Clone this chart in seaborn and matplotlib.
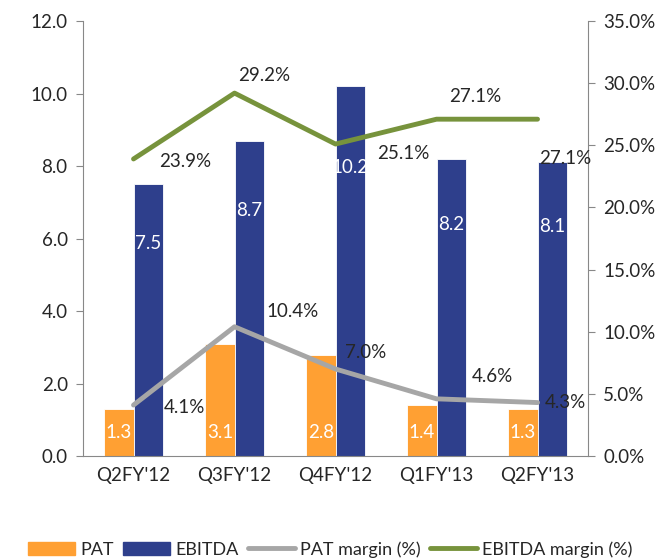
import pandas as pd
import numpy as np
import matplotlib
matplotlib.use('Agg')
import matplotlib.pyplot as plt
import seaborn as sns
from matplotlib.patches import Patch
from matplotlib.lines import Line2D

sns.set_style('white')
plt.rcParams['font.family'] = ['Lato', 'DejaVu Sans']
FS = 13.5

quarters = ["Q2FY'12", "Q3FY'12", "Q4FY'12", "Q1FY'13", "Q2FY'13"]
pat = [1.3, 3.1, 2.8, 1.4, 1.3]
ebitda = [7.5, 8.7, 10.2, 8.2, 8.1]
pat_margin = [4.1, 10.4, 7.0, 4.6, 4.3]
ebitda_margin = [23.9, 29.2, 25.1, 27.1, 27.1]

# label offsets in points (dx, dy), excel put them a bit all over
pat_m_off = [(37, -2), (42, 11), (22, 12), (40, 16), (20, 0)]
ebitda_m_off = [(37, -2), (21, 13), (49, -7), (28, 16), (20, -28)]

C_PAT = '#FFA033'
C_EBITDA = '#2E3F8C'
C_PATM = '#A6A6A6'
C_EBM = '#77933C'

bars = pd.DataFrame({
    'quarter': quarters * 2,
    'value': pat + ebitda,
    'series': ['PAT'] * 5 + ['EBITDA'] * 5,
})

fig = plt.figure(figsize=(6.61, 5.6), dpi=100)
ax = fig.add_axes([0.1256, 0.1857, 0.764, 0.7768])

sns.barplot(data=bars, x='quarter', y='value', hue='series',
            palette=[C_PAT, C_EBITDA], width=0.58, ax=ax, legend=False,
            saturation=1, edgecolor='white', linewidth=0.6)
ax.set_ylim(0, 12)
ax.set_yticks(np.arange(0, 12.1, 2))
ax.set_yticklabels([f'{v:.1f}' for v in np.arange(0, 12.1, 2)])
ax.set_xlabel('')
ax.set_ylabel('')

# white labels inside bars
for i, cont in enumerate(ax.containers):
    vals = pat if i == 0 else ebitda
    for rect, v in zip(cont, vals):
        cx = rect.get_x() + rect.get_width() / 2
        y = 0.65 if i == 0 else v * 0.78
        ax.text(cx, y, f'{v:.1f}', color='white', ha='center', va='center',
                fontsize=FS)

ax2 = ax.twinx()
sns.lineplot(x=quarters, y=pat_margin, color=C_PATM, lw=3.5, ax=ax2, sort=False)
sns.lineplot(x=quarters, y=ebitda_margin, color=C_EBM, lw=3.5, ax=ax2, sort=False)
ax2.set_ylim(0, 35)
ax2.set_yticks(np.arange(0, 35.1, 5))
ax2.set_yticklabels([f'{v:.1f}%' for v in np.arange(0, 35.1, 5)])
ax2.set_xlim(-0.5, 4.5)

for i, (v, off) in enumerate(zip(pat_margin, pat_m_off)):
    ax2.annotate(f'{v:.1f}%', (i, v), xytext=off, textcoords='offset points',
                 ha='center', va='center', fontsize=FS)
for i, (v, off) in enumerate(zip(ebitda_margin, ebitda_m_off)):
    ax2.annotate(f'{v:.1f}%', (i, v), xytext=off, textcoords='offset points',
                 ha='center', va='center', fontsize=FS)

for a in (ax, ax2):
    a.spines['top'].set_visible(False)
    for s in ('left', 'right', 'bottom'):
        a.spines[s].set_color('#888888')
    a.tick_params(axis='y', length=5, color='#888888', labelsize=FS, pad=6)
    a.tick_params(axis='x', length=0, labelsize=FS, pad=8)
ax.spines['right'].set_visible(False)
ax2.spines['left'].set_visible(False)
ax2.spines['bottom'].set_visible(False)

handles = [Patch(color=C_PAT, label='PAT'), Patch(color=C_EBITDA, label='EBITDA'),
           Line2D([], [], color=C_PATM, lw=3.5, label='PAT margin (%)'),
           Line2D([], [], color=C_EBM, lw=3.5, label='EBITDA margin (%)')]
fig.legend(handles=handles, loc='lower center', bbox_to_anchor=(0.5, -0.025),
           ncol=4, frameon=False, fontsize=13, handlelength=2.6,
           columnspacing=0.5, handletextpad=0.3)

fig.savefig('out.png', dpi=100)
